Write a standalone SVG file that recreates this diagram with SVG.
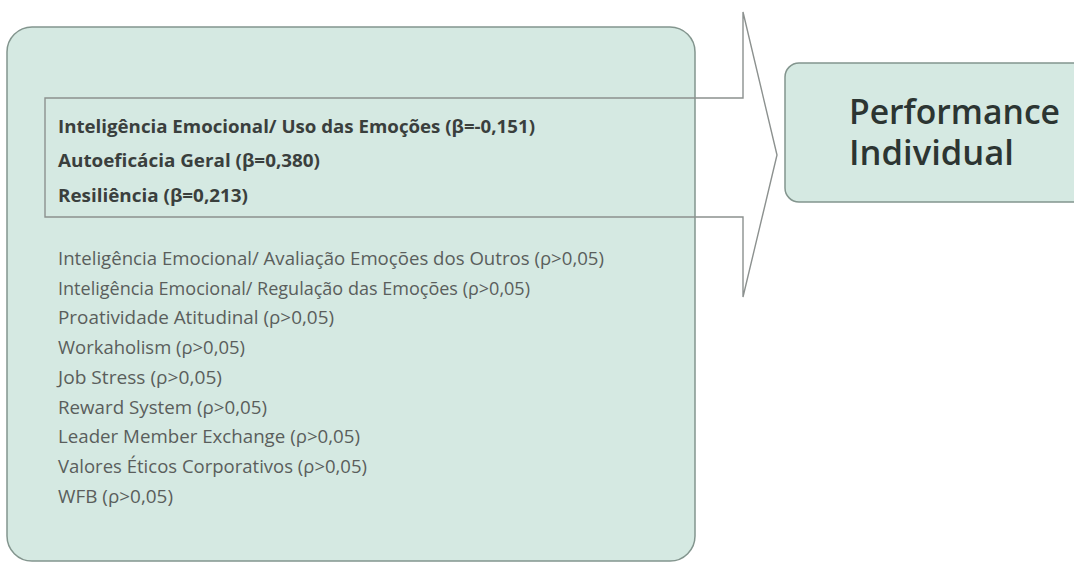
<svg xmlns="http://www.w3.org/2000/svg" width="1074" height="563" viewBox="0 0 1074 563">
<style>
.box{fill:#d5e9e2;stroke:#83958e;stroke-width:1.5}
.arrow{fill:none;stroke:#8c918f;stroke-width:1.4}
.b{font-family:"Open Sans","Liberation Sans",sans-serif;font-weight:700;font-size:17.5px;fill:#3a3f3d}
.r{font-family:"Open Sans","Liberation Sans",sans-serif;font-size:17.5px;fill:#5a5e5c}
.t{font-family:"Open Sans","Liberation Sans",sans-serif;font-weight:600;font-size:34px;fill:#2c3532}
</style>
<rect width="1074" height="563" fill="#ffffff"/>
<g id="factores">
<rect class="box" x="7" y="27" width="688" height="534" rx="25"/>
<text class="b" x="58" y="133" textLength="477" lengthAdjust="spacingAndGlyphs">Inteligência Emocional/ Uso das Emoções (β=-0,151)</text>
<text class="b" x="58" y="167" textLength="262" lengthAdjust="spacingAndGlyphs">Autoeficácia Geral (β=0,380)</text>
<text class="b" x="58" y="202" textLength="190" lengthAdjust="spacingAndGlyphs">Resiliência (β=0,213)</text>
<text class="r" x="58" y="265" textLength="546" lengthAdjust="spacingAndGlyphs">Inteligência Emocional/ Avaliação Emoções dos Outros (ρ&gt;0,05)</text>
<text class="r" x="58" y="295" textLength="472" lengthAdjust="spacingAndGlyphs">Inteligência Emocional/ Regulação das Emoções (ρ&gt;0,05)</text>
<text class="r" x="58" y="324" textLength="276" lengthAdjust="spacingAndGlyphs">Proatividade Atitudinal (ρ&gt;0,05)</text>
<text class="r" x="58" y="354" textLength="187" lengthAdjust="spacingAndGlyphs">Workaholism (ρ&gt;0,05)</text>
<text class="r" x="58" y="384" textLength="164" lengthAdjust="spacingAndGlyphs">Job Stress (ρ&gt;0,05)</text>
<text class="r" x="58" y="414" textLength="209" lengthAdjust="spacingAndGlyphs">Reward System (ρ&gt;0,05)</text>
<text class="r" x="58" y="443" textLength="302" lengthAdjust="spacingAndGlyphs">Leader Member Exchange (ρ&gt;0,05)</text>
<text class="r" x="58" y="473" textLength="309" lengthAdjust="spacingAndGlyphs">Valores Éticos Corporativos (ρ&gt;0,05)</text>
<text class="r" x="58" y="503" textLength="115" lengthAdjust="spacingAndGlyphs">WFB (ρ&gt;0,05)</text>
</g>
<g id="connectors">
<polygon class="arrow" points="45,98 743,98 743,12 777,155 743,297 743,217 45,217"/>
</g>
<g id="performance">
<rect class="box" x="785" y="63" width="320" height="139" rx="14"/>
<text class="t" x="849" y="124" textLength="211" lengthAdjust="spacingAndGlyphs">Performance</text>
<text class="t" x="849" y="165" textLength="165" lengthAdjust="spacingAndGlyphs">Individual</text>
</g>
</svg>
